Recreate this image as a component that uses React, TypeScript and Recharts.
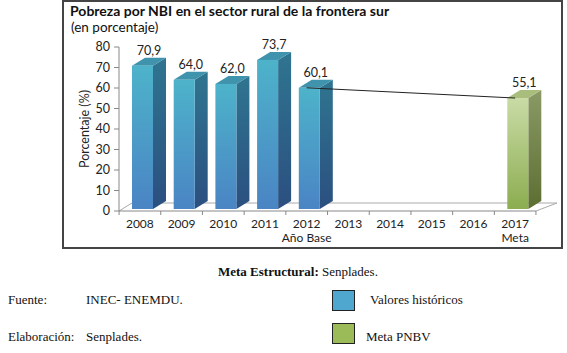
import {
  ComposedChart,
  Bar,
  Line,
  XAxis,
  YAxis,
  LabelList,
  usePlotArea,
} from "recharts";

const years = ["2008", "2009", "2010", "2011", "2012", "2013", "2014", "2015", "2016", "2017"];
const subLabels = ["", "", "", "", "Año Base", "", "", "", "", "Meta"];
const historicos = [70.9, 64.0, 62.0, 73.7, 60.1, null, null, null, null, null];
const metaPnbv = [null, null, null, null, null, null, null, null, null, 55.1];
const tendencia = [null, null, null, null, 60.1, null, null, null, null, 55.1];
const yTicks = [0, 10, 20, 30, 40, 50, 60, 70, 80];

const data = years.map((year, i) => ({
  year,
  sub: subLabels[i],
  historico: historicos[i],
  meta: metaPnbv[i],
  trend: tendencia[i],
}));

// depth of the fake 3d effect
const DX = 13;
const DY = 8;
const SHIFT = 3;
const FONT = "Lato, 'Open Sans', sans-serif";
const SERIF = "'Liberation Serif', serif";

function makeBarShape(kind: "blue" | "green") {
  return (props: any) => {
    const { x, y, width, height } = props;
    if (!height || height <= 0) return <g />;
    const fx = x + SHIFT;
    const w = width;
    const side = kind === "blue" ? "url(#blueSide)" : "url(#greenSide)";
    const front = kind === "blue" ? "url(#blueFront)" : "url(#greenFront)";
    const top = kind === "blue" ? "#3f93ad" : "#a9bd7c";
    return (
      <g>
        <polygon
          points={`${fx + w},${y} ${fx + w + DX},${y - DY} ${fx + w + DX},${y + height - DY - 2} ${fx + w},${y + height - 2}`}
          fill={side}
        />
        <polygon
          points={`${fx},${y} ${fx + DX},${y - DY} ${fx + w + DX},${y - DY} ${fx + w},${y}`}
          fill={top}
        />
        <rect x={fx} y={y} width={w} height={height - 2} fill={front} />
      </g>
    );
  };
}

const fmt = (v: number) => v.toFixed(1).replace(".", ",");

function ValueLabel(props: any) {
  const { x, y, width, value } = props;
  if (value == null) return null;
  return (
    <text
      x={x + SHIFT + width / 2 + DX / 2}
      y={y - DY - 3}
      textAnchor="middle"
      fontSize={12.5}
      fontFamily={FONT}
      fill="#222"
    >
      {fmt(value)}
    </text>
  );
}

function YearTick(props: any) {
  const { x, y, payload, index } = props;
  const half = 20.8;
  return (
    <g>
      <line x1={x - half} y1={y - 8} x2={x - half} y2={y - 4} stroke="#888" />
      {index === years.length - 1 && (
        <line x1={x + half} y1={y - 8} x2={x + half} y2={y - 4} stroke="#888" />
      )}
      <text x={x} y={y + 9} textAnchor="middle" fontSize={12} fontFamily={FONT} fill="#222">
        {payload.value}
      </text>
      <text x={x} y={y + 23} textAnchor="middle" fontSize={12} fontFamily={FONT} fill="#222">
        {subLabels[index]}
      </text>
    </g>
  );
}

// floor of the 3d plot
function Floor() {
  const area = usePlotArea();
  if (!area) return null;
  const { x, y, width, height } = area;
  const b = y + height;
  return (
    <polyline
      points={`${x},${b} ${x + DX},${b - DY} ${x + width + 21},${b - DY} ${x + width},${b}`}
      fill="none"
      stroke="#aaa"
      strokeWidth={1}
    />
  );
}

const noteStyle = {
  position: "absolute" as const,
  fontFamily: SERIF,
  fontSize: 13,
  color: "#111",
  whiteSpace: "nowrap" as const,
};

export default function App() {
  return (
    <div
      style={{
        position: "absolute",
        left: 0,
        top: 0,
        width: 567,
        height: 353,
        background: "#fff",
        overflow: "hidden",
      }}
    >
      <div
        style={{
          position: "absolute",
          left: 62,
          top: 0,
          width: 497,
          height: 245,
          border: "2px solid #444",
        }}
      />
      <div
        style={{
          position: "absolute",
          left: 70,
          top: 2,
          fontFamily: FONT,
          fontWeight: "bold",
          fontSize: 14,
          color: "#111",
          whiteSpace: "nowrap",
        }}
      >
        Pobreza por NBI en el sector rural de la frontera sur
      </div>
      <div
        style={{
          position: "absolute",
          left: 71,
          top: 19,
          fontFamily: FONT,
          fontSize: 13.5,
          color: "#111",
          whiteSpace: "nowrap",
        }}
      >
        (en porcentaje)
      </div>

      <div style={{ position: "absolute", left: 0, top: 0 }}>
        <ComposedChart
          width={567}
          height={253}
          data={data}
          margin={{ top: 47, right: 31, bottom: 0, left: 0 }}
        >
          <defs>
            <linearGradient id="blueFront" x1="0" y1="0" x2="0" y2="1">
              <stop offset="0%" stopColor="#4db3ca" />
              <stop offset="100%" stopColor="#4a84c4" />
            </linearGradient>
            <linearGradient id="blueSide" x1="0" y1="0" x2="0" y2="1">
              <stop offset="0%" stopColor="#2f7590" />
              <stop offset="100%" stopColor="#2b4f80" />
            </linearGradient>
            <linearGradient id="greenFront" x1="0" y1="0" x2="0" y2="1">
              <stop offset="0%" stopColor="#c9dba6" />
              <stop offset="100%" stopColor="#8cad50" />
            </linearGradient>
            <linearGradient id="greenSide" x1="0" y1="0" x2="0" y2="1">
              <stop offset="0%" stopColor="#8b9a66" />
              <stop offset="100%" stopColor="#5d6e32" />
            </linearGradient>
          </defs>
          <Floor />
          <XAxis
            dataKey="year"
            height={42}
            stroke="#888"
            tickLine={false}
            interval={0}
            tick={<YearTick />}
          />
          <YAxis
            width={119}
            domain={[0, 80]}
            ticks={yTicks}
            stroke="#888"
            tickSize={5}
            tickMargin={4}
            tick={{ fontSize: 12.5, fontFamily: FONT, fill: "#222" }}
            label={{
              value: "Porcentaje (%)",
              angle: -90,
              position: "center",
              dx: 25,
              style: { fontSize: 12.5, fontFamily: FONT, fill: "#222" },
            }}
          />
          <Bar
            dataKey="historico"
            stackId="a"
            barSize={21}
            shape={makeBarShape("blue")}
            isAnimationActive={false}
          >
            <LabelList dataKey="historico" content={<ValueLabel />} />
          </Bar>
          <Bar
            dataKey="meta"
            stackId="a"
            barSize={21}
            shape={makeBarShape("green")}
            isAnimationActive={false}
          >
            <LabelList dataKey="meta" content={<ValueLabel />} />
          </Bar>
          <Line
            dataKey="trend"
            connectNulls
            stroke="#222"
            strokeWidth={1}
            dot={false}
            activeDot={false}
            isAnimationActive={false}
          />
        </ComposedChart>
      </div>

      <div style={{ ...noteStyle, left: 218, top: 264 }}>
        <b>Meta Estructural:</b> Senplades.
      </div>
      <div style={{ ...noteStyle, left: 8, top: 292 }}>Fuente:</div>
      <div style={{ ...noteStyle, left: 86, top: 292 }}>INEC- ENEMDU.</div>
      <div style={{ ...noteStyle, left: 8, top: 329 }}>Elaboración:</div>
      <div style={{ ...noteStyle, left: 86, top: 329 }}>Senplades.</div>
      <div
        style={{
          position: "absolute",
          left: 332,
          top: 290,
          width: 21,
          height: 19,
          background: "#4fa6cf",
          border: "1px solid #222",
        }}
      />
      <div style={{ ...noteStyle, left: 370, top: 292 }}>Valores históricos</div>
      <div
        style={{
          position: "absolute",
          left: 332,
          top: 323,
          width: 21,
          height: 19,
          background: "#9bbb59",
          border: "1px solid #222",
        }}
      />
      <div style={{ ...noteStyle, left: 366, top: 329 }}>Meta PNBV</div>
    </div>
  );
}
